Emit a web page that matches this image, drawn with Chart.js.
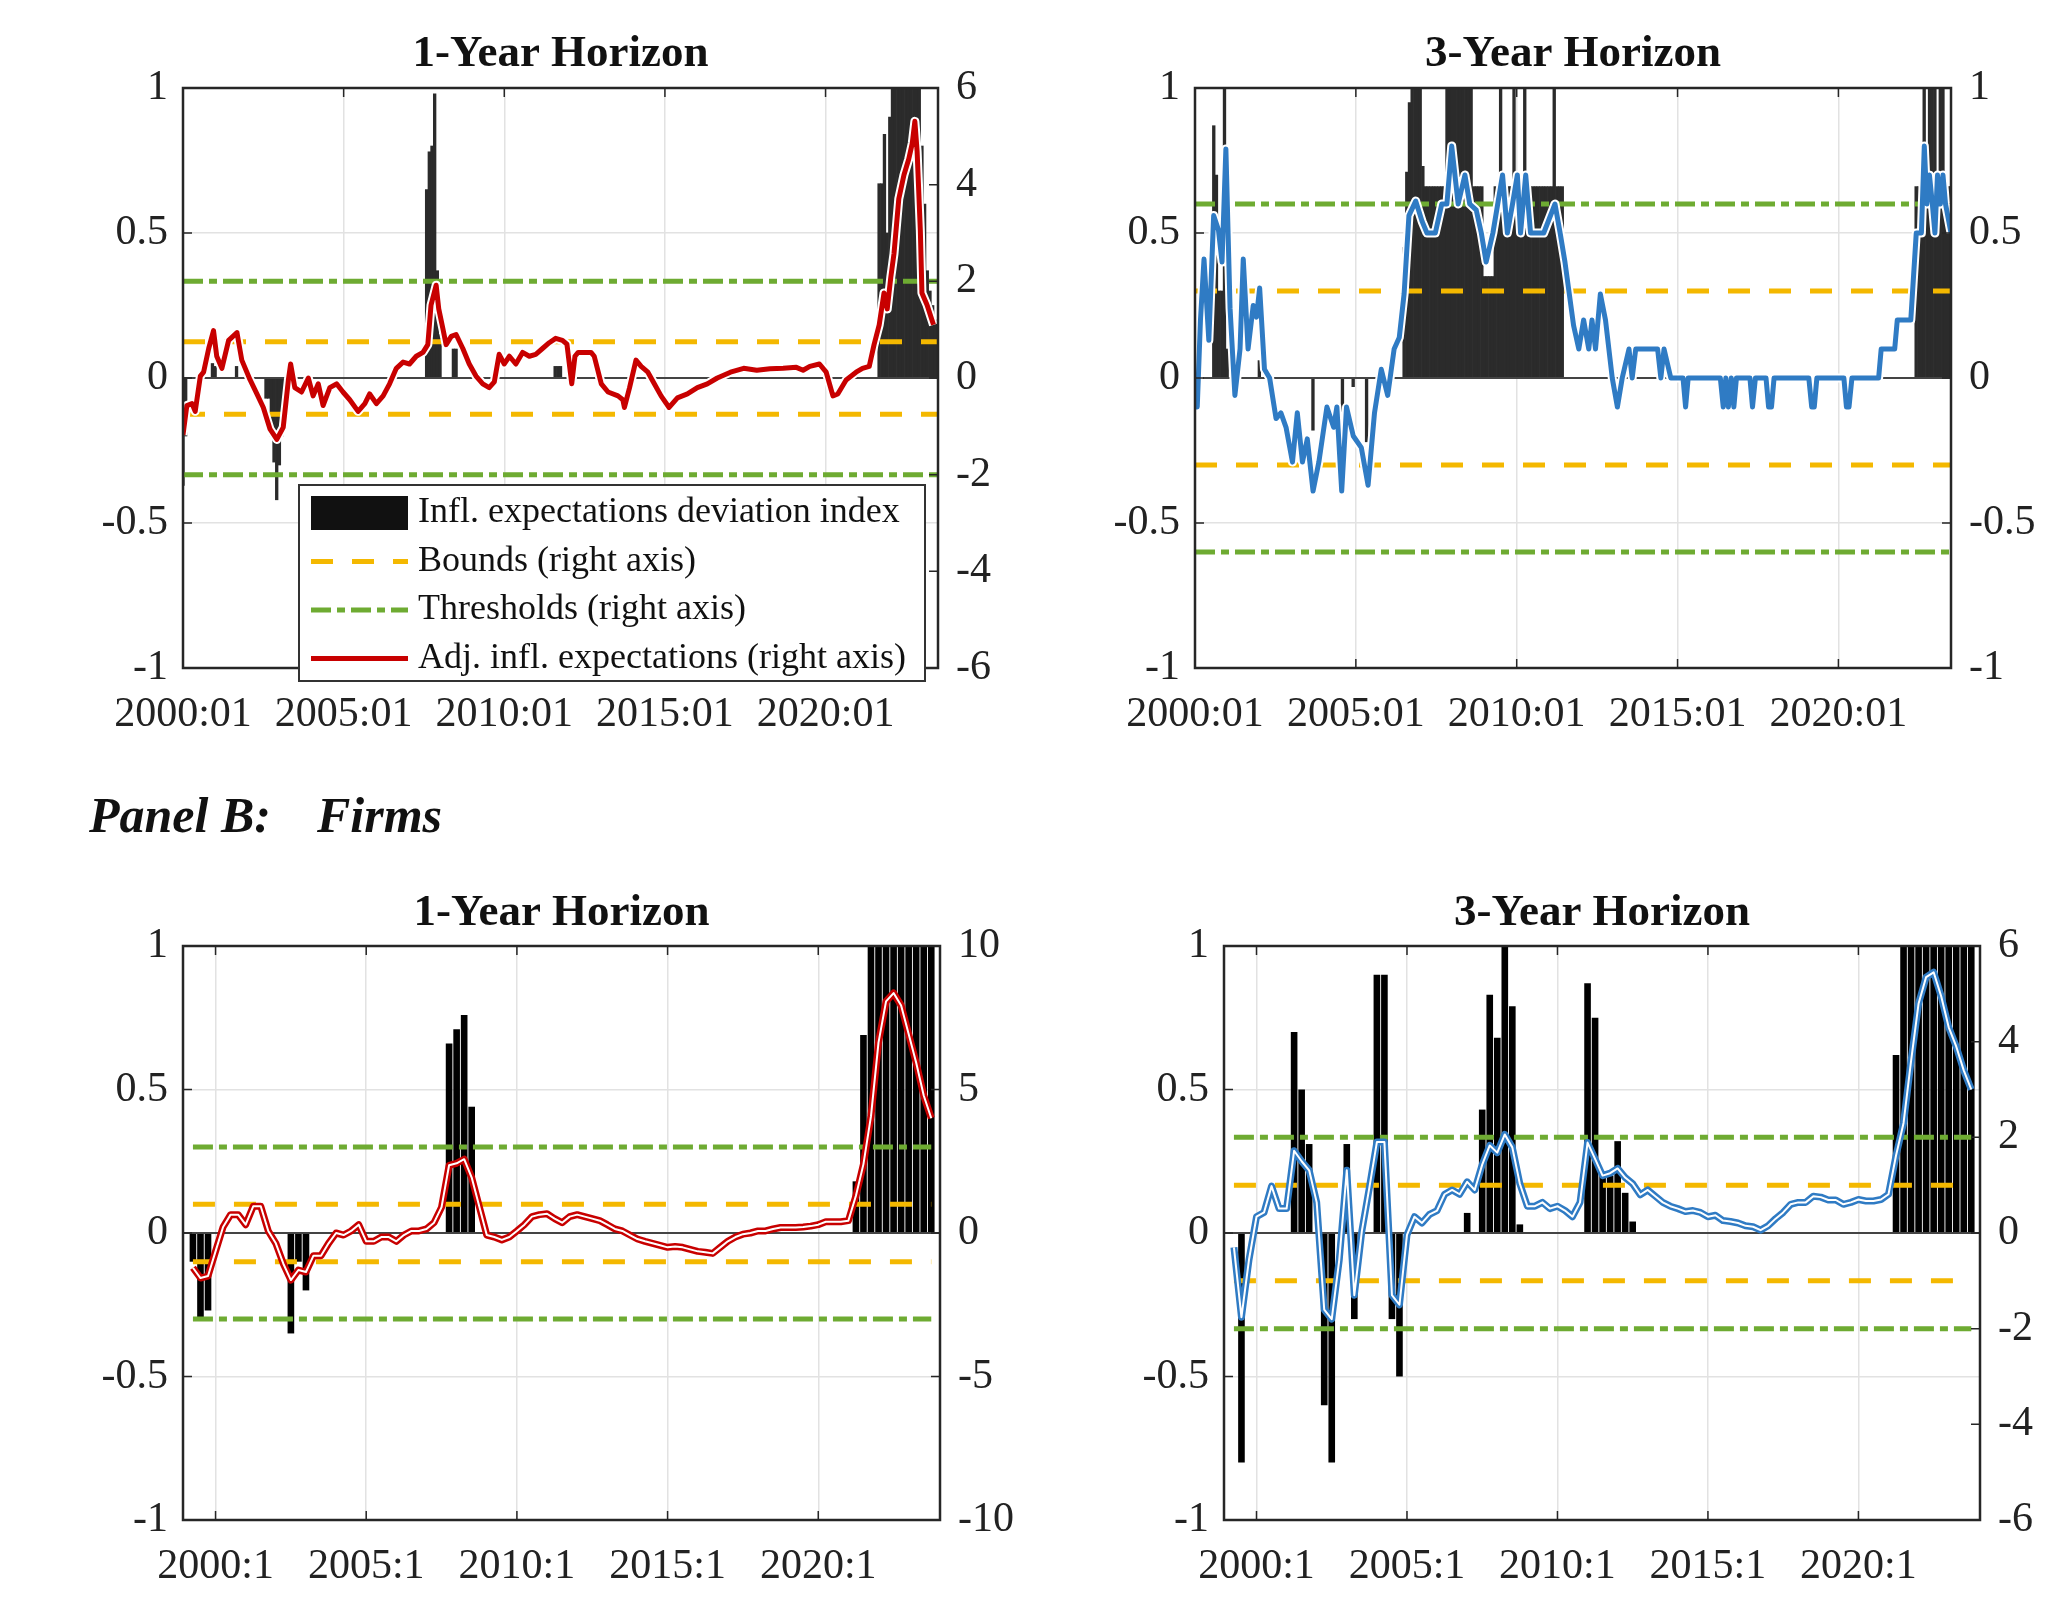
<!DOCTYPE html>
<html>
<head>
<meta charset="utf-8">
<script src="https://cdn.jsdelivr.net/npm/chart.js@4.4.1/dist/chart.umd.min.js"></script>
<style>
  body { margin: 0; background: #fff; width: 2055px; height: 1597px; position: relative; overflow: hidden; }
  canvas { position: absolute; }
  .panelB { position: absolute; top: 785px; font: italic bold 50px 'Liberation Serif', serif; line-height: 60px; color: #111; z-index: 2; }
</style>
</head>
<body>
<canvas id="hh1" width="1030" height="750" style="left:0;top:0"></canvas>
<canvas id="hh3" width="1025" height="750" style="left:1030px;top:0"></canvas>
<canvas id="firm1" width="1030" height="837" style="left:0;top:760px"></canvas>
<canvas id="firm3" width="1025" height="837" style="left:1030px;top:760px"></canvas>
<div class="panelB" style="left:89px">Panel B:</div>
<div class="panelB" style="left:317px">Firms</div>
<script>
// ---- tick labels ----
var tickYears = [2000, 2005, 2010, 2015, 2020];
var monthTickLabels = ['2000:01', '2005:01', '2010:01', '2015:01', '2020:01'];
var quarterTickLabels = ['2000:1', '2005:1', '2010:1', '2015:1', '2020:1'];

// ---- Panel A, 1-year horizon ----
// deviation index bars: [year, month, value]
var hh1Bars = [
  [2000,1,-0.37],[2000,2,-0.2],[2000,12,0.05],[2001,1,0.04],[2001,9,0.04],
  [2002,8,-0.07],[2002,9,-0.07],[2002,10,-0.2],[2002,11,-0.29],[2002,12,-0.42],[2003,1,-0.3],[2003,2,-0.2],[2003,3,-0.12],
  [2007,8,0.65],[2007,9,0.78],[2007,10,0.8],[2007,11,0.98],[2007,12,0.37],[2008,1,0.15],[2008,6,0.1],[2008,7,0.1],
  [2011,8,0.04],[2011,9,0.04],[2011,10,0.04],
  [2021,9,0.67],[2021,10,0.67],[2021,11,0.84],[2021,12,0.5],[2022,1,0.9],[2022,2,1],[2022,3,1],[2022,4,1],[2022,5,1],
  [2022,6,1],[2022,7,1],[2022,8,1],[2022,9,1],[2022,10,1],[2022,11,1],[2022,12,1],
  [2023,1,0.8],[2023,2,0.6],[2023,3,0.37],[2023,4,0.3],[2023,5,0.25],[2023,6,0.2]
];
// adjusted expectations: [decimal year, value]
var hh1Line = [
  [2000.00,-1.18],[2000.12,-0.57],[2000.28,-0.53],[2000.38,-0.69],[2000.54,0.04],[2000.64,0.12],[2000.80,0.61],[2000.95,0.98],
  [2001.05,0.45],[2001.21,0.2],[2001.42,0.78],[2001.68,0.94],[2001.83,0.37],[2002.09,-0.04],[2002.30,-0.33],[2002.50,-0.61],
  [2002.71,-1.06],[2002.92,-1.27],[2003.12,-1.02],[2003.28,-0.04],[2003.35,0.29],[2003.48,-0.2],[2003.69,-0.29],[2003.90,0.0],
  [2004.05,-0.37],[2004.21,-0.12],[2004.36,-0.57],[2004.57,-0.2],[2004.78,-0.12],[2004.98,-0.29],[2005.19,-0.45],[2005.45,-0.69],
  [2005.66,-0.53],[2005.81,-0.33],[2006.02,-0.53],[2006.23,-0.37],[2006.43,-0.12],[2006.64,0.2],[2006.85,0.33],[2007.05,0.29],
  [2007.26,0.45],[2007.47,0.53],[2007.62,0.69],[2007.72,1.51],[2007.88,1.92],[2007.96,1.43],[2008.09,1.02],[2008.19,0.69],
  [2008.35,0.86],[2008.50,0.9],[2008.71,0.61],[2008.91,0.29],[2009.12,0.04],[2009.33,-0.12],[2009.53,-0.2],[2009.69,-0.08],
  [2009.84,0.49],[2010.00,0.29],[2010.16,0.45],[2010.36,0.29],[2010.57,0.53],[2010.78,0.45],[2010.98,0.49],[2011.19,0.61],
  [2011.40,0.73],[2011.60,0.82],[2011.81,0.78],[2011.95,0.7],[2012.10,-0.12],[2012.20,0.45],[2012.30,0.53],[2012.70,0.53],
  [2012.80,0.45],[2013.02,-0.12],[2013.23,-0.29],[2013.54,-0.37],[2013.69,-0.45],[2013.74,-0.61],[2013.90,-0.2],[2014.10,0.37],
  [2014.26,0.24],[2014.47,0.12],[2014.67,-0.12],[2014.88,-0.37],[2015.13,-0.61],[2015.39,-0.41],[2015.70,-0.33],[2016.01,-0.2],
  [2016.32,-0.12],[2016.63,0.0],[2017.04,0.12],[2017.45,0.2],[2017.86,0.16],[2018.27,0.19],[2018.68,0.2],[2019.09,0.22],
  [2019.30,0.16],[2019.51,0.24],[2019.81,0.29],[2020.02,0.12],[2020.23,-0.37],[2020.38,-0.33],[2020.64,-0.04],[2020.95,0.12],
  [2021.15,0.2],[2021.36,0.24],[2021.51,0.69],[2021.67,1.1],[2021.82,1.76],[2021.92,1.43],[2022.03,2.08],[2022.13,2.57],
  [2022.28,3.71],[2022.44,4.2],[2022.59,4.53],[2022.70,4.86],[2022.78,5.31],[2022.85,4.69],[2022.95,3.06],[2023.00,1.76],
  [2023.16,1.51],[2023.36,1.1]
];

// ---- Panel A, 3-year horizon ----
var hh3Bars = [
  [2000,8,0.87],[2000,9,0.7],[2000,10,0.3],[2000,11,0.3],[2000,12,1],[2001,1,0.1],[2002,1,0.06],
  [2003,9,-0.18],[2004,8,-0.2],[2004,12,-0.03],[2005,5,-0.22],
  [2006,7,0.45],[2006,8,0.71],[2006,9,0.95],[2006,10,1],[2006,11,1],[2006,12,1],[2007,1,1],[2007,2,0.73],
  [2007,3,0.66],[2007,4,0.66],[2007,5,0.66],[2007,6,0.66],[2007,7,0.66],[2007,8,0.66],[2007,9,0.66],[2007,10,0.66],
  [2007,11,1],[2007,12,1],[2008,1,1],[2008,2,1],[2008,3,1],[2008,4,1],[2008,5,1],[2008,6,1],[2008,7,1],[2008,8,1],
  [2008,9,0.66],[2008,10,0.66],[2008,11,0.66],[2008,12,0.66],[2009,1,0.35],[2009,2,0.35],[2009,3,0.35],[2009,4,0.35],
  [2009,5,0.66],[2009,6,0.66],[2009,7,1],[2009,8,0.66],[2009,9,0.66],[2009,10,0.66],[2009,11,0.66],[2009,12,1],
  [2010,1,0.66],[2010,2,0.66],[2010,3,0.66],[2010,4,1],[2010,5,0.66],[2010,6,0.66],[2010,7,0.66],[2010,8,0.66],
  [2010,9,0.66],[2010,10,0.66],[2010,11,0.66],[2010,12,0.66],[2011,1,0.66],[2011,2,0.66],[2011,3,1],[2011,4,0.66],
  [2011,5,0.66],[2011,6,0.66],
  [2022,6,0.66],[2022,7,0.66],[2022,8,0.66],[2022,9,1],[2022,10,0.66],[2022,11,1],[2022,12,1],[2023,1,1],
  [2023,2,0.51],[2023,3,1],[2023,4,1],[2023,5,0.66],[2023,6,0.66],[2023,7,0.66]
];
var hh3Line = [
  [2000.00,-0.1],[2000.07,-0.1],[2000.17,0.2],[2000.28,0.41],[2000.43,0.13],[2000.58,0.56],[2000.73,0.51],[2000.84,0.4],
  [2000.96,0.79],[2001.09,0.24],[2001.24,-0.06],[2001.40,0.1],[2001.50,0.41],[2001.65,0.1],[2001.81,0.25],[2001.91,0.21],
  [2002.01,0.31],[2002.16,0.03],[2002.32,0.0],[2002.52,-0.14],[2002.67,-0.12],[2002.83,-0.17],[2003.03,-0.29],[2003.18,-0.12],
  [2003.34,-0.29],[2003.49,-0.21],[2003.67,-0.39],[2003.85,-0.29],[2004.10,-0.1],[2004.31,-0.17],[2004.41,-0.1],[2004.56,-0.39],
  [2004.71,-0.1],[2004.92,-0.2],[2005.17,-0.24],[2005.38,-0.37],[2005.58,-0.12],[2005.79,0.03],[2005.99,-0.06],[2006.19,0.1],
  [2006.35,0.14],[2006.50,0.29],[2006.65,0.56],[2006.86,0.61],[2007.06,0.54],[2007.21,0.5],[2007.47,0.5],[2007.67,0.6],
  [2007.83,0.6],[2007.98,0.8],[2008.18,0.6],[2008.39,0.7],[2008.54,0.6],[2008.74,0.58],[2008.90,0.5],[2009.05,0.4],
  [2009.26,0.5],[2009.41,0.6],[2009.56,0.7],[2009.71,0.5],[2009.87,0.6],[2010.02,0.7],[2010.12,0.5],[2010.28,0.7],
  [2010.43,0.5],[2010.84,0.5],[2011.19,0.6],[2011.35,0.5],[2011.50,0.4],[2011.77,0.18],[2011.93,0.1],[2012.08,0.2],
  [2012.24,0.1],[2012.34,0.2],[2012.45,0.1],[2012.60,0.29],[2012.76,0.2],[2012.97,0.0],[2013.13,-0.1],[2013.28,0.0],
  [2013.49,0.1],[2013.59,0.0],[2013.70,0.1],[2014.38,0.1],[2014.48,0.0],[2014.58,0.1],[2014.79,0.0],[2015.17,0.0],
  [2015.25,-0.1],[2015.33,0.0],[2016.33,0.0],[2016.42,-0.1],[2016.50,0.0],[2016.58,-0.1],[2016.67,0.0],[2016.75,-0.1],
  [2016.83,0.0],[2017.25,0.0],[2017.33,-0.1],[2017.42,0.0],[2017.75,0.0],[2017.83,-0.1],[2017.92,-0.1],[2018.00,0.0],
  [2019.08,0.0],[2019.17,-0.1],[2019.25,-0.1],[2019.33,0.0],[2020.17,0.0],[2020.25,-0.1],[2020.33,-0.1],[2020.42,0.0],
  [2021.25,0.0],[2021.33,0.1],[2021.75,0.1],[2021.83,0.2],[2022.25,0.2],[2022.42,0.5],[2022.58,0.5],[2022.67,0.8],
  [2022.75,0.6],[2022.83,0.7],[2022.92,0.6],[2023.00,0.5],[2023.08,0.7],[2023.17,0.6],[2023.25,0.7],[2023.33,0.6],
  [2023.50,0.5]
];

// ---- Panel B (firms), quarterly from 1999:2 ----
var firmFirstQuarter = [1999, 2];
var firm1Bars = [
  [1999,2,-0.1],[1999,3,-0.3],[1999,4,-0.27],[2002,3,-0.35],[2002,4,-0.1],[2003,1,-0.2],
  [2007,4,0.66],[2008,1,0.71],[2008,2,0.76],[2008,3,0.44],
  [2021,2,0.18],[2021,3,0.69],[2021,4,1],[2022,1,1],[2022,2,1],[2022,3,1],[2022,4,1],[2023,1,1],[2023,2,1],[2023,3,1],[2023,4,1]
];
var firm1Line = [
  -1.21,-1.57,-1.5,
  -0.64,0.21,0.64,0.64,   0.29,0.93,0.93,0.07,   -0.36,-1.07,-1.64,-1.29,   -1.36,-0.79,-0.79,-0.36,
  0,-0.07,0.07,0.29,      -0.29,-0.29,-0.14,-0.14, -0.29,-0.07,0.07,0.07,   0.14,0.36,0.9,2.36,
  2.43,2.57,1.93,0.93,    -0.07,-0.14,-0.24,-0.14, 0.07,0.29,0.57,0.64,     0.67,0.5,0.36,0.57,
  0.64,0.57,0.5,0.43,     0.29,0.14,0.07,-0.07,   -0.21,-0.29,-0.36,-0.43,  -0.5,-0.47,-0.5,-0.57,
  -0.64,-0.67,-0.71,-0.5, -0.29,-0.14,-0.04,0,    0.07,0.07,0.14,0.19,      0.19,0.19,0.21,0.24,
  0.29,0.39,0.39,0.39,    0.43,1.3,2.4,4.07,      6.64,8.07,8.36,7.93,      6.93,5.93,4.79,4.0
];
var firm3Bars = [
  [1999,3,-0.8],[2001,2,0.7],[2001,3,0.5],[2001,4,0.31],[2002,2,-0.6],[2002,3,-0.8],[2003,1,0.31],[2003,2,-0.3],
  [2004,1,0.9],[2004,2,0.9],[2004,3,-0.3],[2004,4,-0.5],
  [2007,1,0.07],[2007,3,0.43],[2007,4,0.83],[2008,1,0.68],[2008,2,1],[2008,3,0.79],[2008,4,0.03],
  [2011,1,0.87],[2011,2,0.75],[2011,3,0.2],[2011,4,0.2],[2012,1,0.32],[2012,2,0.14],[2012,3,0.04],
  [2021,2,0.62],[2021,3,1],[2021,4,1],[2022,1,1],[2022,2,1],[2022,3,1],[2022,4,1],[2023,1,1],[2023,2,1],[2023,3,1],[2023,4,1]
];
var firm3Line = [
  -0.3,-1.76,-0.56,
  0.34,0.43,0.98,0.51,    0.51,1.72,1.5,1.31,     0.64,-1.6,-1.8,-0.56,     1.31,-1.3,0.04,0.95,
  1.9,1.9,-1.3,-1.5,      -0.04,0.34,0.21,0.39,   0.47,0.81,0.9,0.81,       1.07,0.9,1.43,1.83,
  1.68,2.06,1.79,1.03,    0.56,0.56,0.64,0.51,    0.56,0.47,0.34,0.64,      1.89,1.55,1.2,1.25,
  1.35,1.16,1.03,0.8,     0.9,0.77,0.64,0.56,     0.51,0.45,0.47,0.43,      0.34,0.37,0.26,0.24,
  0.21,0.15,0.13,0.06,    0.15,0.3,0.43,0.6,      0.64,0.64,0.77,0.75,      0.69,0.69,0.6,0.64,
  0.7,0.67,0.67,0.7,      0.81,1.62,2.3,3.6,      4.8,5.35,5.45,4.95,       4.3,3.9,3.4,3.0
];

var YELLOW = '#F4B800';
var GREEN = '#6EAB32';
var RED = '#C80000';
var BLUE = '#2F7BC4';
var FONT = 'Liberation Serif';

function monthly(r) { return { x: r[0] + (r[1] - 1) / 12, y: r[2] }; }
function quarterly(r) { return { x: r[0] + (r[1] - 1) / 4, y: r[2] }; }
function pairs(r) { return { x: r[0], y: r[1] }; }
function quarterSeries(vals) {
  var x0 = firmFirstQuarter[0] + (firmFirstQuarter[1] - 1) / 4;
  return vals.map(function(v, i) { return { x: x0 + i * 0.25, y: v }; });
}
function flat(x0, x1, v) { return [{ x: x0, y: v }, { x: x1, y: v }]; }

// frame, inward tick marks and the inset legend
var panelDeco = {
  id: 'panelDeco',
  afterDatasetsDraw: function(chart) {
    var ctx = chart.ctx, a = chart.chartArea, s = chart.scales;
    ctx.save();
    ctx.strokeStyle = '#262626';
    ctx.lineWidth = 1.5;
    ctx.beginPath();
    s.x.ticks.forEach(function(t) {
      var px = s.x.getPixelForValue(t.value);
      ctx.moveTo(px, a.bottom); ctx.lineTo(px, a.bottom - 9);
      ctx.moveTo(px, a.top); ctx.lineTo(px, a.top + 9);
    });
    s.y.ticks.forEach(function(t) {
      var py = s.y.getPixelForValue(t.value);
      ctx.moveTo(a.left, py); ctx.lineTo(a.left + 9, py);
    });
    s.y2.ticks.forEach(function(t) {
      var py = s.y2.getPixelForValue(t.value);
      ctx.moveTo(a.right, py); ctx.lineTo(a.right - 9, py);
    });
    ctx.stroke();
    ctx.lineWidth = 2.5;
    ctx.strokeRect(a.left, a.top, a.right - a.left, a.bottom - a.top);
    ctx.restore();
  },
  afterDraw: function(chart, args, opts) {
    if (!opts.legend) return;
    var L = opts.legend, ctx = chart.ctx, a = chart.chartArea;
    var bx = a.left + L.dx, by = a.top + L.dy;
    ctx.save();
    ctx.fillStyle = '#fff';
    ctx.fillRect(bx, by, L.w, L.h);
    ctx.strokeStyle = '#333';
    ctx.lineWidth = 2;
    ctx.strokeRect(bx, by, L.w, L.h);
    ctx.font = '36px "' + FONT + '"';
    ctx.textBaseline = 'middle';
    chart.data.datasets.filter(function(d) { return d.inLegend; }).forEach(function(d, i) {
      var cy = by + 28 + i * 48.5, sx = bx + 12, sw = 97;
      if (d.type === 'bar') {
        ctx.fillStyle = '#111';
        ctx.fillRect(sx, cy - 17, sw, 34);
      } else {
        ctx.strokeStyle = d.borderColor;
        ctx.lineWidth = 5;
        ctx.setLineDash(d.borderDash || []);
        ctx.beginPath(); ctx.moveTo(sx, cy); ctx.lineTo(sx + sw, cy); ctx.stroke();
        ctx.setLineDash([]);
      }
      ctx.fillStyle = '#111';
      ctx.fillText(d.label, sx + sw + 10, cy);
    });
    ctx.restore();
  }
};
Chart.register(panelDeco);

function makePanel(p) {
  var lineStyle = { type: 'line', yAxisID: 'y2', pointRadius: 0, tension: 0, borderJoinStyle: 'round', fill: false };
  var under, over;
  if (p.centerLine) {
    under = Object.assign({}, lineStyle, { label: 'Adj. infl. expectations (right axis)', inLegend: true, data: p.line, borderColor: p.color, borderWidth: 7, order: 1 });
    over = Object.assign({}, lineStyle, { data: p.line, borderColor: '#ffffff', borderWidth: 2, order: 0 });
  } else {
    under = Object.assign({}, lineStyle, { data: p.line, borderColor: '#ffffff', borderWidth: 9, order: 1 });
    over = Object.assign({}, lineStyle, { label: 'Adj. infl. expectations (right axis)', inLegend: true, data: p.line, borderColor: p.color, borderWidth: 5, order: 0 });
  }
  var dashY = [22, 19], dashG = [20, 6, 8, 6];
  var r0 = p.dataRange[0], r1 = p.dataRange[1];
  var datasets = [
    { type: 'bar', label: 'Infl. expectations deviation index', inLegend: true, data: p.bars, yAxisID: 'y',
      backgroundColor: p.barColor, borderWidth: 0, barPercentage: p.barPct, categoryPercentage: 1, order: 6 },
    Object.assign({}, lineStyle, { yAxisID: 'y', data: flat(p.xMin, p.xMax, 0), borderColor: '#444', borderWidth: 2, order: 5 }),
    Object.assign({}, lineStyle, { label: 'Bounds (right axis)', inLegend: true, data: flat(r0, r1, p.bound), borderColor: YELLOW, borderWidth: 5, borderDash: dashY, order: 3 }),
    Object.assign({}, lineStyle, { data: flat(r0, r1, -p.bound), borderColor: YELLOW, borderWidth: 5, borderDash: dashY, order: 3 }),
    Object.assign({}, lineStyle, { label: 'Thresholds (right axis)', inLegend: true, data: flat(r0, r1, p.threshold), borderColor: GREEN, borderWidth: 5, borderDash: dashG, order: 2 }),
    Object.assign({}, lineStyle, { data: flat(r0, r1, -p.threshold), borderColor: GREEN, borderWidth: 5, borderDash: dashG, order: 2 }),
    under, over
  ];
  var tickFont = { family: FONT, size: 42 };
  return new Chart(document.getElementById(p.canvas), {
    type: 'bar',
    data: { datasets: datasets },
    options: {
      responsive: false,
      animation: false,
      devicePixelRatio: 1,
      events: [],
      layout: { padding: 0 },
      plugins: {
        legend: { display: false },
        tooltip: { enabled: false },
        title: { display: true, text: p.title, fullSize: false, color: '#111',
                 font: { family: FONT, size: 45, weight: 'bold' },
                 padding: { top: p.titleTop, bottom: p.titleBottom } },
        panelDeco: { legend: p.legend || null }
      },
      scales: {
        x: {
          type: 'linear', min: p.xMin, max: p.xMax, offset: false,
          grid: { color: '#e2e2e2', lineWidth: 1.5, drawTicks: false, offset: false },
          border: { display: false },
          afterBuildTicks: function(scale) { scale.ticks = tickYears.map(function(v) { return { value: v }; }); },
          afterFit: function(scale) { scale.height = p.xAxisH; },
          ticks: { autoSkip: false, maxRotation: 0, font: tickFont, color: '#222', padding: 22,
                   callback: function(v) { return p.tickLabels[tickYears.indexOf(v)]; } }
        },
        y: {
          position: 'left', min: -1, max: 1,
          grid: { color: '#e2e2e2', lineWidth: 1.5, drawTicks: false },
          border: { display: false },
          afterFit: function(scale) { scale.width = p.leftW; },
          ticks: { stepSize: 0.5, font: tickFont, color: '#222', padding: 15, callback: function(v) { return String(v); } }
        },
        y2: {
          position: 'right', min: p.y2[0], max: p.y2[1],
          grid: { display: false, drawTicks: false },
          border: { display: false },
          afterFit: function(scale) { scale.width = p.rightW; },
          ticks: { stepSize: p.y2[2], font: tickFont, color: '#222', padding: 18, callback: function(v) { return String(v); } }
        }
      }
    }
  });
}

window.onload = function() {
  makePanel({
    canvas: 'hh1', title: '1-Year Horizon', xMin: 2000, xMax: 2023.5, dataRange: [2000, 2023.5],
    y2: [-6, 6, 2], bound: 0.75, threshold: 2, tickLabels: monthTickLabels,
    bars: hh1Bars.map(monthly), line: hh1Line.map(pairs), color: RED, barColor: '#2b2b2b', barPct: 1,
    leftW: 183, rightW: 92, xAxisH: 82, titleTop: 27, titleBottom: 7,
    legend: { dx: 116, dy: 397, w: 626, h: 196 }
  });
  makePanel({
    canvas: 'hh3', title: '3-Year Horizon', xMin: 2000, xMax: 2023.5, dataRange: [2000, 2023.5],
    y2: [-1, 1, 0.5], bound: 0.3, threshold: 0.6, tickLabels: monthTickLabels,
    bars: hh3Bars.map(monthly), line: hh3Line.map(pairs), color: BLUE, barColor: '#2b2b2b', barPct: 1,
    leftW: 165, rightW: 104, xAxisH: 82, titleTop: 27, titleBottom: 7
  });
  makePanel({
    canvas: 'firm1', title: '1-Year Horizon', xMin: 1998.92, xMax: 2024.04, dataRange: [1999.25, 2023.75],
    y2: [-10, 10, 5], bound: 1, threshold: 3, tickLabels: quarterTickLabels,
    bars: firm1Bars.map(quarterly), line: quarterSeries(firm1Line), color: RED, barColor: '#000', barPct: 0.88,
    centerLine: true, leftW: 183, rightW: 90, xAxisH: 77, titleTop: 126, titleBottom: 6
  });
  makePanel({
    canvas: 'firm3', title: '3-Year Horizon', xMin: 1998.92, xMax: 2024.04, dataRange: [1999.25, 2023.75],
    y2: [-6, 6, 2], bound: 1, threshold: 2, tickLabels: quarterTickLabels,
    bars: firm3Bars.map(quarterly), line: quarterSeries(firm3Line), color: BLUE, barColor: '#000', barPct: 0.88,
    centerLine: true, leftW: 194, rightW: 75, xAxisH: 77, titleTop: 126, titleBottom: 6
  });
};
</script>
</body>
</html>
